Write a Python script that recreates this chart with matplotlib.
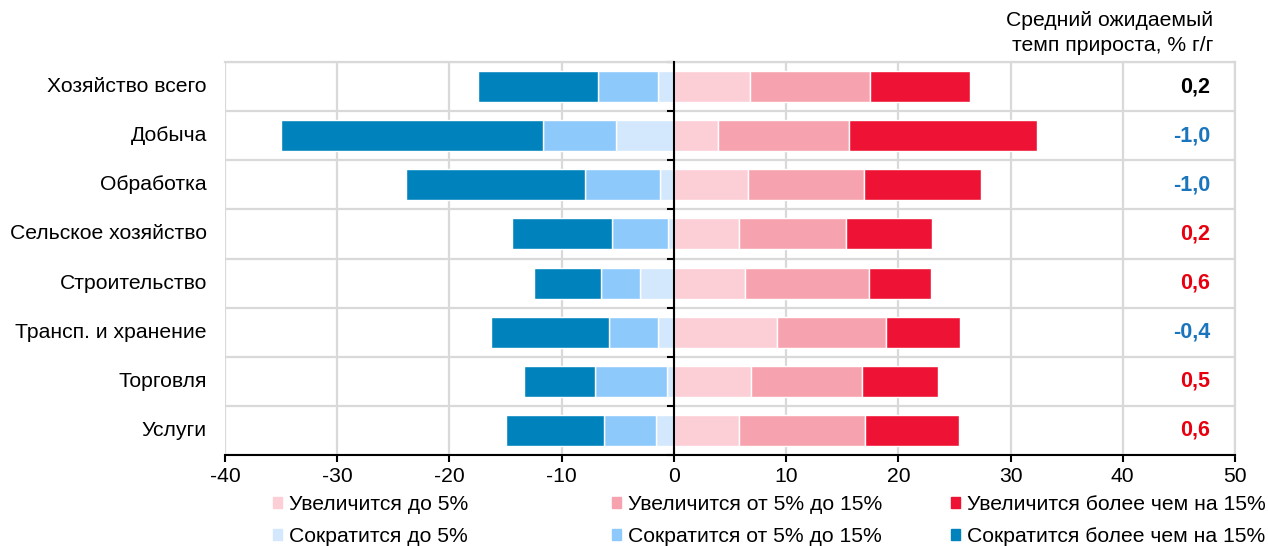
import numpy as np
import matplotlib
matplotlib.use("Agg")
import matplotlib.pyplot as plt
from matplotlib.patches import Patch
from matplotlib.transforms import blended_transform_factory

plt.rcParams["font.family"] = ["Liberation Sans", "DejaVu Sans"]
plt.rcParams["axes.unicode_minus"] = False

# Survey shares, % of respondents
categories = [
    "Хозяйство всего",
    "Добыча",
    "Обработка",
    "Сельское хозяйство",
    "Строительство",
    "Трансп. и хранение",
    "Торговля",
    "Услуги",
]
dec_small = [1.4, 5.2, 1.2, 0.5, 3.0, 1.4, 0.6, 1.6]
dec_mid = [5.4, 6.5, 6.7, 5.0, 3.5, 4.4, 6.4, 4.6]
dec_large = [10.7, 23.3, 16.0, 8.9, 6.0, 10.5, 6.4, 8.8]
inc_small = [6.8, 3.9, 6.6, 5.8, 6.3, 9.2, 6.9, 5.8]
inc_mid = [10.7, 11.7, 10.3, 9.5, 11.1, 9.7, 9.9, 11.2]
inc_large = [8.9, 16.8, 10.5, 7.7, 5.5, 6.6, 6.7, 8.4]

# Average expected growth, % y/y
avg_growth = [0.2, -1.0, -1.0, 0.2, 0.6, -0.4, 0.5, 0.6]

inc_labels = ["Увеличится до 5%", "Увеличится от 5% до 15%", "Увеличится более чем на 15%"]
dec_labels = ["Сократится до 5%", "Сократится от 5% до 15%", "Сократится более чем на 15%"]
inc_colors = ["#FCCFD6", "#F7A3AF", "#EE1334"]
dec_colors = ["#D3E8FD", "#8EC9FC", "#0083BD"]

fig = plt.figure(figsize=(12.68, 5.46), dpi=100)
ax = fig.add_axes([225 / 1268, 91 / 546, 1010 / 1268, 393 / 546])

y = np.arange(len(categories))
h = 0.63
fs = 15.2

# decreases go left of zero, increases go right
left = np.zeros(len(y))
for vals, col in zip([dec_small, dec_mid, dec_large], dec_colors):
    vals = np.array(vals)
    ax.barh(y, -vals, left=left, height=h, color=col, edgecolor="white", linewidth=1, zorder=3)
    left -= vals
left = np.zeros(len(y))
for vals, col in zip([inc_small, inc_mid, inc_large], inc_colors):
    vals = np.array(vals)
    ax.barh(y, vals, left=left, height=h, color=col, edgecolor="white", linewidth=1, zorder=3)
    left += vals

ax.set_xlim(-40, 50)
ax.set_ylim(len(y) - 0.5, -0.5)
ax.set_xticks(np.arange(-40, 51, 10))
ax.set_yticks(np.arange(-0.5, len(y), 1))
ax.set_yticklabels([])
ax.grid(True, color="#D9D9D9", linewidth=1.6, zorder=0)
ax.set_axisbelow(True)

ax.spines["left"].set_position(("data", 0))
ax.spines["left"].set_linewidth(1.5)
ax.spines["left"].set_zorder(4)
ax.spines["bottom"].set_linewidth(1.5)
for s in ["top", "right"]:
    ax.spines[s].set_color("#D9D9D9")
    ax.spines[s].set_linewidth(1.6)
ax.tick_params(axis="x", direction="out", length=5, width=1.5, labelsize=fs, pad=4)
ax.tick_params(axis="y", direction="out", length=5, width=1.5)

trans = blended_transform_factory(ax.transAxes, ax.transData)
for yi, name in zip(y, categories):
    ax.text(-0.018, yi, name, transform=trans, ha="right", va="center", fontsize=fs)

# average growth column
for i, (yi, v) in enumerate(zip(y, avg_growth)):
    if i == 0:
        c = "black"
    elif v < 0:
        c = "#1A75BC"
    else:
        c = "#E8000F"
    ax.text(47.8, yi, f"{v:.1f}".replace(".", ","), ha="right", va="center",
            fontsize=15.5, fontweight="bold", color=c)

fig.text(1213 / 1268, 1 - 33 / 546, "Средний ожидаемый\nтемп прироста, % г/г",
         ha="right", va="center", multialignment="right", fontsize=fs, linespacing=1.4)

# legend: one column per size group
col_x = [273, 612, 951]
for k in range(3):
    handles = [Patch(color=inc_colors[k]), Patch(color=dec_colors[k])]
    labels = [inc_labels[k], dec_labels[k]]
    fig.legend(handles, labels, loc="upper left", bbox_to_anchor=(col_x[k] / 1268, 1 - 495 / 546),
               frameon=False, fontsize=fs, handlelength=0.42, handleheight=0.42,
               handletextpad=0.35, labelspacing=0.62, borderpad=0, borderaxespad=0)

fig.savefig("out.png", dpi=100)
